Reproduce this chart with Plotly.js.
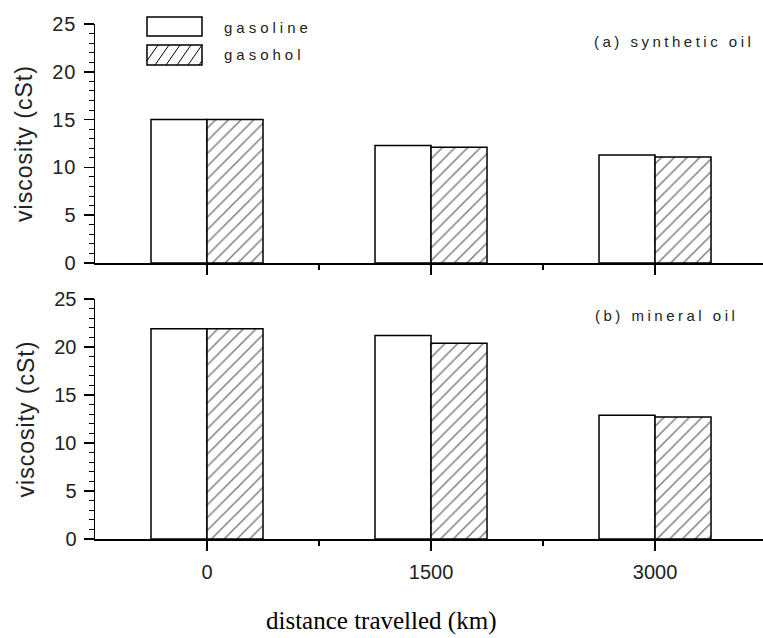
<!DOCTYPE html>
<html>
<head>
<meta charset="utf-8">
<script src="https://cdn.plot.ly/plotly-3.0.1.min.js"></script>
<style>
  html, body { margin: 0; padding: 0; background: #fff; }
  #chart { width: 763px; height: 638px; }
  .xtick text { letter-spacing: 3px; }
  .ytick text { letter-spacing: 1px; }
  .ytitle, .y2title { letter-spacing: 1px; }
</style>
</head>
<body>
<div id="chart"></div>
<script>
// ---- data ----
const distances = [0, 1500, 3000];
const tickLabels = ['0', '1500', '3000'];
const seriesNames = ['gasoline', 'gasohol'];
const syntheticGasoline = [15.0, 12.3, 11.3];
const syntheticGasohol  = [15.0, 12.1, 11.1];
const mineralGasoline   = [21.9, 21.2, 12.9];
const mineralGasohol    = [21.9, 20.4, 12.7];
const panelLabels = ['(a) synthetic oil', '(b) mineral oil'];
const yTitle = 'viscosity (cSt)';
const xTitle = 'distance travelled (km)';

// ---- geometry helpers ----
const W = 763, H = 638, L = 95, R = 0, T = 24, B = 99;
const pw = W - L - R, ph = H - T - B;
const px = x => (x - L) / pw;
const py = y => (H - B - y) / ph;

const barW = 375;
const outline = { color: '#000', width: 1.5 };
const plainMarker = { color: '#fff', line: outline };
const hatchMarker = { color: '#fff', line: outline,
  pattern: { shape: '/', size: 9, solidity: 0.17, fgcolor: '#000', bgcolor: '#fff', fillmode: 'overlay' } };

const traces = [
  { type: 'bar', name: seriesNames[0], x: distances, y: syntheticGasoline, xaxis: 'x', yaxis: 'y',
    width: barW, offset: -barW, marker: plainMarker, showlegend: false },
  { type: 'bar', name: seriesNames[1], x: distances, y: syntheticGasohol, xaxis: 'x', yaxis: 'y',
    width: barW, offset: 0, marker: hatchMarker, showlegend: false },
  { type: 'bar', name: seriesNames[0], x: distances, y: mineralGasoline, xaxis: 'x2', yaxis: 'y2',
    width: barW, offset: -barW, marker: plainMarker, showlegend: false },
  { type: 'bar', name: seriesNames[1], x: distances, y: mineralGasohol, xaxis: 'x2', yaxis: 'y2',
    width: barW, offset: 0, marker: hatchMarker, showlegend: false }
];

const tickFont = { family: 'Liberation Sans, Arial, sans-serif', size: 20, color: '#222' };
const xBase = {
  range: [-750, 3723], tickmode: 'array', tickvals: distances, ticktext: tickLabels,
  ticks: 'outside', ticklen: 10, tickwidth: 1.5, tickcolor: '#000',
  minor: { tickmode: 'array', tickvals: [750, 2250], ticks: 'outside', ticklen: 5, tickwidth: 1.5, tickcolor: '#000' },
  showline: true, linecolor: '#000', linewidth: 1.5, showgrid: false, zeroline: false,
  tickfont: tickFont, fixedrange: true
};
const yBase = {
  range: [0, 25], dtick: 5, tick0: 0,
  ticks: 'outside', ticklen: 10, tickwidth: 1.5, tickcolor: '#000',
  minor: { dtick: 1, ticks: 'outside', ticklen: 5, tickwidth: 1, tickcolor: '#000' },
  showline: true, linecolor: '#000', linewidth: 1.5, showgrid: false, zeroline: false,
  tickfont: tickFont, ticklabelstandoff: 3, automargin: true,
  title: { text: yTitle, standoff: 13, font: { family: 'Liberation Sans, Arial, sans-serif', size: 23, color: '#222' } },
  fixedrange: true
};

const topDomain = [py(263), py(24)];
const botDomain = [py(539), py(299)];

// legend drawn as layout decoration
const lgX0 = px(147), lgX1 = px(202);
const box1 = [py(36), py(17)];
const box2 = [py(65), py(45)];
function hatchPath(x0, x1, y0, y1, step, rise) {
  let d = '';
  for (let s = x0 - rise; s < x1; s += step) {
    let ax = s, ay = y1, bx = s + rise, by = y0;
    if (ax < x0) { ay = y1 - (x0 - ax) * (y1 - y0) / rise; ax = x0; }
    if (bx > x1) { by = y0 + (bx - x1) * (y1 - y0) / rise; bx = x1; }
    if (bx - ax < 1) continue;
    d += `M${px(ax)},${py(ay)}L${px(bx)},${py(by)}`;
  }
  return d;
}

const labelFont = { family: 'Liberation Sans, Arial, sans-serif', size: 15, color: '#222' };
const layout = {
  width: W, height: H,
  margin: { l: L, r: R, t: T, b: B, pad: 0, autoexpand: false },
  paper_bgcolor: '#fff', plot_bgcolor: '#fff',
  barmode: 'overlay',
  showlegend: false,
  font: { family: 'Liberation Sans, Arial, sans-serif', color: '#222' },
  xaxis: Object.assign({}, xBase, { anchor: 'y', domain: [0, 1], showticklabels: false }),
  xaxis2: Object.assign({}, xBase, { anchor: 'y2', domain: [0, 1], showticklabels: true, ticklabelstandoff: 4 }),
  yaxis: Object.assign({}, yBase, { anchor: 'x', domain: topDomain }),
  yaxis2: Object.assign({}, yBase, { anchor: 'x2', domain: botDomain }),
  shapes: [
    { type: 'rect', xref: 'paper', yref: 'paper', x0: lgX0, x1: lgX1, y0: box1[0], y1: box1[1],
      line: { color: '#000', width: 1.5 }, fillcolor: '#fff' },
    { type: 'rect', xref: 'paper', yref: 'paper', x0: lgX0, x1: lgX1, y0: box2[0], y1: box2[1],
      line: { color: '#000', width: 1.5 }, fillcolor: '#fff' },
    { type: 'path', xref: 'paper', yref: 'paper', path: hatchPath(147, 202, 45, 65, 11, 14),
      line: { color: '#000', width: 1 } }
  ],
  annotations: [
    { text: '<span style="letter-spacing:4px">' + seriesNames[0] + '</span>', xref: 'paper', yref: 'paper',
      x: px(222), y: py(27), xanchor: 'left', yanchor: 'middle', showarrow: false, font: labelFont },
    { text: '<span style="letter-spacing:4px">' + seriesNames[1] + '</span>', xref: 'paper', yref: 'paper',
      x: px(222), y: py(55), xanchor: 'left', yanchor: 'middle', showarrow: false, font: labelFont },
    { text: '<span style="letter-spacing:3.5px">' + panelLabels[0] + '</span>', xref: 'paper', yref: 'paper',
      x: px(592), y: py(41), xanchor: 'left', yanchor: 'middle', showarrow: false, font: labelFont },
    { text: '<span style="letter-spacing:3.5px">' + panelLabels[1] + '</span>', xref: 'paper', yref: 'paper',
      x: px(593), y: py(315), xanchor: 'left', yanchor: 'middle', showarrow: false, font: labelFont },
    { text: xTitle, xref: 'paper', yref: 'paper',
      x: px(381), y: py(621), xanchor: 'center', yanchor: 'middle', showarrow: false,
      font: { family: 'Liberation Serif, Times New Roman, serif', size: 25, color: '#000' } }
  ]
};

Plotly.newPlot('chart', traces, layout, { staticPlot: true, displayModeBar: false });
</script>
</body>
</html>
